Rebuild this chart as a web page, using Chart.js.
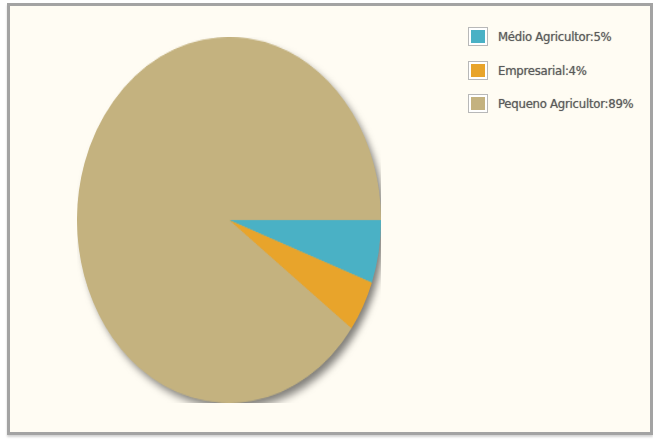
<!DOCTYPE html>
<html>
<head>
<meta charset="utf-8">
<script src="https://cdn.jsdelivr.net/npm/chart.js@4.4.0/dist/chart.umd.min.js"></script>
<style>
  html, body { margin: 0; padding: 0; background: #fff; }
  #frame {
    position: absolute; left: 7px; top: 3px; width: 640px; height: 426px;
    background: #fffcf3; border: 3px solid #a3a3a3;
    box-shadow: 0 2px 2px #d4d4d4;
  }
  #pieWrap {
    position: absolute; left: 67px; top: 62px; width: 304px; height: 304px;
    transform: scaleY(1.204); transform-origin: 50% 50%;
  }
  #legend { position: absolute; left: 456px; top: 14px; }
  .item { display: flex; align-items: center; height: 33.5px; white-space: nowrap; }
  .box {
    width: 14px; height: 13px; border: 2px solid #fff; outline: 1px solid #b8b8b8;
    margin-right: 11px; margin-left: 3px;
  }
  .lbl {
    font-family: "DejaVu Sans", sans-serif; font-stretch: condensed;
    font-size: 13px; color: #5a5a5a; letter-spacing: -0.25px;
    text-shadow: 0 0 1px rgba(80,80,80,0.6);
  }
</style>
</head>
<body>
<div id="frame">
  <div id="pieWrap"><canvas id="pie"></canvas></div>
  <div id="legend"></div>
</div>
<script>
const labels = ["Médio Agricultor", "Empresarial", "Pequeno Agricultor"];
const percentText = ["5%", "4%", "89%"];
const shares = [5.5, 4.5, 89];
const colors = ["#4ab1c5", "#e8a42b", "#c4b27f"];

document.addEventListener("DOMContentLoaded", () => {
  const legend = document.getElementById("legend");
  labels.forEach((name, i) => {
    const row = document.createElement("div");
    row.className = "item";
    row.innerHTML = '<span class="box" style="background:' + colors[i] + '"></span>' +
      '<span class="lbl">' + name + ":" + percentText[i] + "</span>";
    legend.appendChild(row);
  });

  // one soft shadow under the whole pie, not per slice
  const shadow = {
    id: "shadow",
    beforeDatasetsDraw(chart) {
      const arc = chart.getDatasetMeta(0).data[0];
      if (!arc) return;
      const ctx = chart.ctx;
      ctx.save();
      ctx.shadowColor = "rgba(0,0,0,0.5)";
      ctx.shadowBlur = 7;
      ctx.shadowOffsetX = 4;
      ctx.shadowOffsetY = 5;
      ctx.fillStyle = colors[2];
      ctx.beginPath();
      ctx.arc(arc.x, arc.y, arc.outerRadius - 0.5, 0, Math.PI * 2);
      ctx.fill();
      ctx.restore();
    },
  };

  new Chart(document.getElementById("pie"), {
    type: "pie",
    data: {
      labels: labels,
      datasets: [{
        data: shares,
        backgroundColor: colors,
        borderWidth: 0,
      }],
    },
    options: {
      responsive: true,
      maintainAspectRatio: false,
      animation: false,
      rotation: 90,
      layout: { padding: 0 },
      plugins: { legend: { display: false }, tooltip: { enabled: false } },
    },
    plugins: [shadow],
  });
});
</script>
</body>
</html>
